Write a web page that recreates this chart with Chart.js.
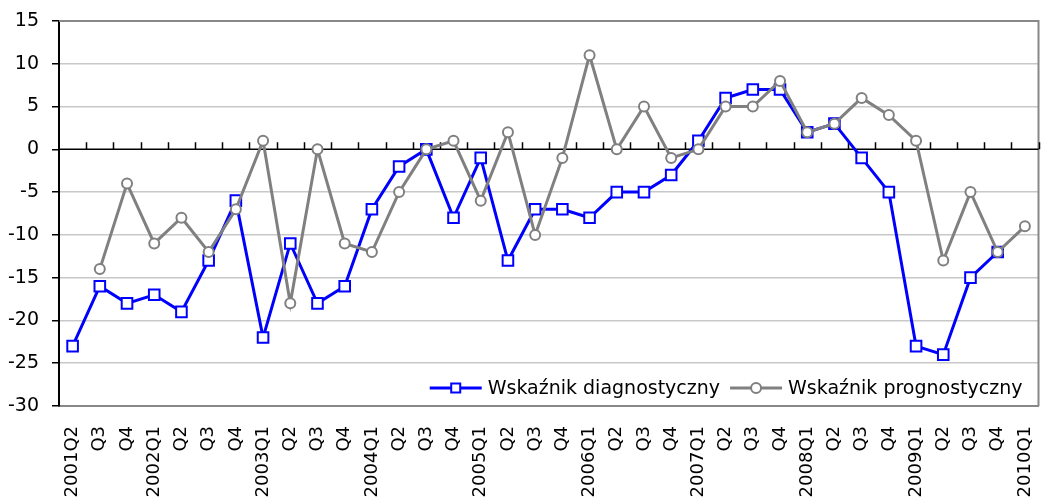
<!DOCTYPE html>
<html>
<head>
<meta charset="utf-8">
<script src="https://cdn.jsdelivr.net/npm/chart.js@4.4.1/dist/chart.umd.min.js"></script>
<style>
  html, body { margin: 0; padding: 0; background: #fff; }
  #wrap { width: 1048px; height: 501px; }
</style>
</head>
<body>
<div id="wrap"><canvas id="chart" width="1048" height="501"></canvas></div>
<script>
const quarters = [
  '2001Q2', 'Q3', 'Q4',
  '2002Q1', 'Q2', 'Q3', 'Q4',
  '2003Q1', 'Q2', 'Q3', 'Q4',
  '2004Q1', 'Q2', 'Q3', 'Q4',
  '2005Q1', 'Q2', 'Q3', 'Q4',
  '2006Q1', 'Q2', 'Q3', 'Q4',
  '2007Q1', 'Q2', 'Q3', 'Q4',
  '2008Q1', 'Q2', 'Q3', 'Q4',
  '2009Q1', 'Q2', 'Q3', 'Q4',
  '2010Q1'
];

const diagnostyczny = [
  -23, -16, -18,
  -17, -19, -13, -6,
  -22, -11, -18, -16,
  -7, -2, 0, -8,
  -1, -13, -7, -7,
  -8, -5, -5, -3,
  1, 6, 7, 7,
  2, 3, -1, -5,
  -23, -24, -15, -12,
  null
];

const prognostyczny = [
  null, -14, -4,
  -11, -8, -12, -7,
  1, -18, 0, -11,
  -12, -5, 0, 1,
  -6, 2, -10, -1,
  11, 0, 5, -1,
  0, 5, 5, 8,
  2, 3, 6, 4,
  1, -13, -5, -12,
  -9
];

const yMin = -30;
const yMax = 15;
const yStep = 5;

const FONT = 'DejaVu Sans';

// zero axis with tick marks between categories, plus plot frame
const axisPlugin = {
  id: 'axisPlugin',
  beforeDatasetsDraw(chart) {
    const { ctx, chartArea, scales } = chart;
    const y0 = scales.y.getPixelForValue(0);
    const n = quarters.length;
    const w = (chartArea.right - chartArea.left) / n;
    ctx.save();
    ctx.strokeStyle = '#888';
    ctx.lineWidth = 2;
    ctx.beginPath();
    ctx.moveTo(chartArea.left, chartArea.top);
    ctx.lineTo(chartArea.right, chartArea.top);
    ctx.lineTo(chartArea.right, chartArea.bottom);
    ctx.stroke();

    ctx.strokeStyle = '#000';
    ctx.lineWidth = 1.5;
    ctx.beginPath();
    ctx.moveTo(chartArea.left, y0);
    ctx.lineTo(chartArea.right, y0);
    for (let i = 1; i <= n; i++) {
      const x = Math.round(chartArea.left + i * w) + 0.5;
      ctx.moveTo(x, y0);
      ctx.lineTo(x, y0 - 7);
    }
    ctx.stroke();
    ctx.restore();
  }
};

// legend drawn inside the plot area, bottom right
const legendPlugin = {
  id: 'insideLegend',
  afterDraw(chart) {
    const { ctx, chartArea } = chart;
    const yc = chartArea.bottom - 18;
    ctx.save();
    ctx.font = '19px "' + FONT + '"';
    ctx.textBaseline = 'middle';
    ctx.fillStyle = '#000';
    const items = chart.data.datasets;
    const lineLen = 52;
    const gap = 6;
    let x = chartArea.right - 16;
    const widths = items.map(d => ctx.measureText(d.label).width);
    const starts = [];
    for (let i = items.length - 1; i >= 0; i--) {
      x -= widths[i];
      starts[i] = x;
      x -= lineLen + gap + 10;
    }
    items.forEach((d, i) => {
      const tx = starts[i];
      const lx0 = tx - gap - lineLen;
      const lx1 = tx - gap;
      ctx.strokeStyle = d.borderColor;
      ctx.lineWidth = d.borderWidth;
      ctx.beginPath();
      ctx.moveTo(lx0, yc);
      ctx.lineTo(lx1, yc);
      ctx.stroke();
      const mx = (lx0 + lx1) / 2;
      ctx.fillStyle = '#fff';
      ctx.strokeStyle = d.pointBorderColor;
      ctx.lineWidth = d.pointBorderWidth;
      ctx.beginPath();
      if (d.pointStyle === 'rect') {
        ctx.rect(mx - 4.5, yc - 4.5, 9, 9);
      } else {
        ctx.arc(mx, yc, 5, 0, Math.PI * 2);
      }
      ctx.fill();
      ctx.stroke();
      ctx.fillStyle = '#000';
      ctx.fillText(d.label, tx, yc + 1);
    });
    ctx.restore();
  }
};

new Chart(document.getElementById('chart'), {
  type: 'line',
  data: {
    labels: quarters,
    datasets: [
      {
        label: 'Wskaźnik diagnostyczny',
        data: diagnostyczny,
        borderColor: '#0000ff',
        borderWidth: 3,
        pointStyle: 'rect',
        pointRadius: 7.5,
        pointBackgroundColor: '#ffffff',
        pointBorderColor: '#0000ff',
        pointBorderWidth: 2,
        tension: 0,
        order: 1
      },
      {
        label: 'Wskaźnik prognostyczny',
        data: prognostyczny,
        borderColor: '#808080',
        borderWidth: 3,
        pointStyle: 'circle',
        pointRadius: 5,
        pointBackgroundColor: '#ffffff',
        pointBorderColor: '#808080',
        pointBorderWidth: 2,
        tension: 0,
        order: 0
      }
    ]
  },
  options: {
    responsive: false,
    animation: false,
    // the rotated last label still reserves some room on the right, hence the negative value
    layout: { padding: { top: 21, right: -10.5, left: 0, bottom: 0 } },
    plugins: {
      legend: { display: false },
      tooltip: { enabled: false }
    },
    scales: {
      x: {
        offset: true,
        grid: { display: false },
        border: { display: true, color: '#888', width: 2 },
        ticks: {
          color: '#000',
          font: { family: FONT, size: 18 },
          minRotation: 90,
          maxRotation: 90,
          autoSkip: false,
          padding: 12
        },
        afterFit(scale) {
          scale.height = 95;
          scale.paddingLeft = 0;
          scale.paddingRight = 0;
        }
      },
      y: {
        min: yMin,
        max: yMax,
        ticks: {
          stepSize: yStep,
          color: '#000',
          font: { family: FONT, size: 19 },
          padding: 13
        },
        grid: {
          color: (c) => (c.tick && (c.tick.value === yMax || c.tick.value === yMin || c.tick.value === 0)) ? 'rgba(0,0,0,0)' : '#c8c8c8',
          lineWidth: 1.5,
          tickLength: 7,
          tickColor: '#000',
          tickWidth: 1.5
        },
        border: { display: true, color: '#000', width: 2 },
        afterFit(scale) {
          scale.width = 59;
          scale.paddingTop = 0;
          scale.paddingBottom = 0;
        }
      }
    }
  },
  plugins: [axisPlugin, legendPlugin]
});
</script>
</body>
</html>
